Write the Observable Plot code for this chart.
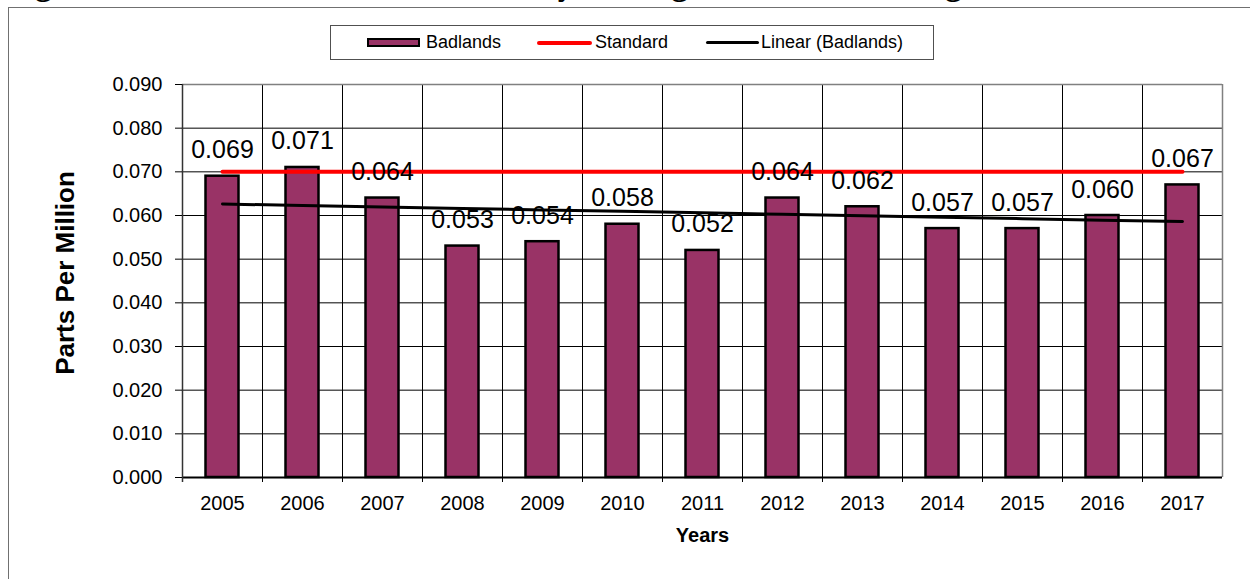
<!DOCTYPE html>
<html><head><meta charset="utf-8">
<script src="https://cdn.jsdelivr.net/npm/d3@7"></script>
<script src="https://cdn.jsdelivr.net/npm/@observablehq/plot@0.6"></script>
<style>
html,body{margin:0;padding:0;background:#fff;width:1250px;height:579px;overflow:hidden;position:relative;font-family:"Liberation Sans",Arial,sans-serif;}
#title{position:absolute;left:6px;top:-32px;font-family:"Liberation Serif","Times New Roman",serif;font-weight:bold;font-size:33px;line-height:33px;white-space:nowrap;color:#000;}
#frame{position:absolute;left:8px;top:7px;width:1300px;height:700px;border:1.5px solid #707070;box-sizing:border-box;background:transparent;}
#chart{position:absolute;left:0;top:0;}
#legend{position:absolute;left:330px;top:25px;width:604px;height:35px;border:1px solid #505050;box-sizing:border-box;background:#fff;font-size:18px;color:#000;}
.item{position:absolute;top:0;height:33px;line-height:33px;white-space:nowrap;}
.sw{position:absolute;}
</style>
</head><body>
<div id="title"></div>
<div id="frame"></div>
<div id="chart"></div>
<div id="legend"></div>
<script>
// ---- data ----
const titleText = "Figure 13: Badlands Site – Ozone Yearly 4th Highest 8-Hour Averages";
const years = ["2005","2006","2007","2008","2009","2010","2011","2012","2013","2014","2015","2016","2017"];
const badlands = [0.069,0.071,0.064,0.053,0.054,0.058,0.052,0.064,0.062,0.057,0.057,0.060,0.067];
const standardValue = 0.070;
const yTicks = [0,0.01,0.02,0.03,0.04,0.05,0.06,0.07,0.08,0.09];
const seriesNames = ["Badlands","Standard","Linear (Badlands)"];
const yLabel = "Parts Per Million";
const xLabel = "Years";

// ---- derived tables ----
const data = years.map((year,i)=>({year, value: badlands[i], i}));
const mx = d3.mean(data, d=>d.i), my = d3.mean(data, d=>d.value);
const slope = d3.sum(data, d=>(d.i-mx)*(d.value-my)) / d3.sum(data, d=>(d.i-mx)**2);
const intercept = my - slope*mx;
const trend = data.map(d=>({year:d.year, value: intercept + slope*d.i}));
const standard = years.map(year=>({year, value: standardValue}));

document.getElementById("title").textContent = titleText;

const W=1250, H=579, mL=182, mR=28, mT=84, mB=102;
const step = (W-mL-mR)/years.length;
const barW = 33;
const fmt = d3.format(".3f");

const chart = Plot.plot({
  width:W, height:H, marginLeft:mL, marginRight:mR, marginTop:mT, marginBottom:mB,
  style:{background:"transparent", fontFamily:"Liberation Sans, Arial, sans-serif", fontSize:"20px", color:"#000"},
  x:{type:"band", domain:years, padding:0, axis:null, label:null},
  y:{domain:[0,0.09], axis:null, label:null},
  marks:[
    Plot.ruleY(yTicks.slice(1), {stroke:"#000", strokeWidth:1}),
    Plot.ruleX(years, {x:d=>d, dx:-step/2, stroke:"#000", strokeWidth:1, insetBottom:-5}),
    Plot.ruleX([years[years.length-1]], {x:d=>d, dx:step/2, stroke:"#808080", strokeWidth:1.5}),
    Plot.ruleY([0.09], {stroke:"#808080", strokeWidth:1.5}),
    Plot.barY(data, {x:"year", y:"value", fill:"#993366", stroke:"#000", strokeWidth:2.5,
      insetLeft:(step-barW)/2, insetRight:(step-barW)/2}),
    Plot.ruleY([0], {stroke:"#000", strokeWidth:2}),
    Plot.ruleX([years[0]], {x:d=>d, dx:-step/2, stroke:"#333", strokeWidth:1.5, insetBottom:-5}),
    Plot.lineY(standard, {x:"year", y:"value", stroke:"#ff0000", strokeWidth:4}),
    Plot.lineY(trend, {x:"year", y:"value", stroke:"#000", strokeWidth:3}),
    Plot.text(data, {x:"year", y:"value", text:d=>fmt(d.value), dy:-26, fontSize:25, lineAnchor:"middle", fill:"#000"}),
    Plot.axisY({ticks:yTicks, tickFormat:fmt, tickSize:7, tickPadding:13, fontSize:20, label:null}),
    Plot.axisX({tickSize:0, tickPadding:18, fontSize:20, label:null}),
    Plot.text([yLabel], {text:d=>d, frameAnchor:"left", textAnchor:"middle", dx:-117, dy:-8, rotate:-90, fontWeight:"bold", fontSize:26}),
    Plot.text([xLabel], {text:d=>d, frameAnchor:"bottom", dy:64, fontWeight:"bold", fontSize:20})
  ]
});
document.getElementById("chart").appendChild(chart);

// legend
const lg = document.getElementById("legend");
const items = [
  {name:seriesNames[0], kind:"bar", sx:36, tx:95},
  {name:seriesNames[1], kind:"red", sx:206, tx:264},
  {name:seriesNames[2], kind:"black", sx:375, tx:430}
];
for (const it of items) {
  const sw = document.createElement("div");
  sw.className = "sw";
  if (it.kind==="bar") {
    Object.assign(sw.style,{left:it.sx+"px", top:"12px", width:"53px", height:"9px", background:"#993366", border:"2px solid #000", boxSizing:"border-box"});
  } else if (it.kind==="red") {
    Object.assign(sw.style,{left:it.sx+"px", top:"15px", width:"55px", height:"4px", background:"#ff0000", borderRadius:"2px"});
  } else {
    Object.assign(sw.style,{left:it.sx+"px", top:"15px", width:"53px", height:"3px", background:"#000", borderRadius:"2px"});
  }
  lg.appendChild(sw);
  const t = document.createElement("div");
  t.className = "item";
  t.style.left = it.tx+"px";
  t.textContent = it.name;
  lg.appendChild(t);
}
</script>
</body></html>
